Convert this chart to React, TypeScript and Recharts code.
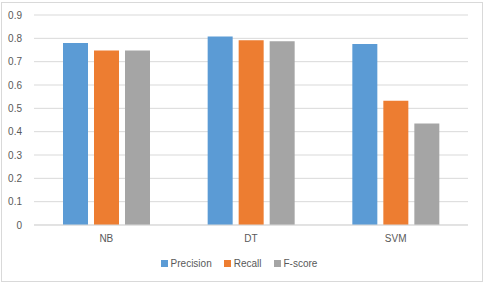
import { Bar, BarChart, CartesianGrid, Legend, XAxis, YAxis } from "recharts";

const categories = ["NB", "DT", "SVM"];
const precision = [0.78, 0.808, 0.776];
const recall = [0.748, 0.792, 0.533];
const fscore = [0.748, 0.787, 0.435];
const yTicks = [0, 0.1, 0.2, 0.3, 0.4, 0.5, 0.6, 0.7, 0.8, 0.9];

const data = categories.map((name, i) => ({
  name,
  Precision: precision[i],
  Recall: recall[i],
  "F-score": fscore[i],
}));

const textColor = "#595959";
const gridColor = "#d9d9d9";
const series = [
  { key: "Precision", color: "#5b9bd5" },
  { key: "Recall", color: "#ed7d31" },
  { key: "F-score", color: "#a5a5a5" },
];

function ChartLegend() {
  return (
    <div style={{ display: "flex", justifyContent: "center", gap: 12, fontSize: 10, color: textColor }}>
      {series.map((s) => (
        <span key={s.key} style={{ display: "inline-flex", alignItems: "center", gap: 3 }}>
          <span style={{ width: 7, height: 7, background: s.color, display: "inline-block" }} />
          {s.key}
        </span>
      ))}
    </div>
  );
}

export default function App() {
  return (
    <div style={{ position: "absolute", left: 0, top: 0, width: 490, height: 284, background: "#fff" }}>
      <div
        style={{
          position: "absolute",
          left: 1,
          top: 2,
          width: 480,
          height: 278,
          border: "1px solid #d9d9d9",
        }}
      />
      <div style={{ position: "absolute", left: 0, top: 0, fontFamily: "'Liberation Sans', Arial, sans-serif" }}>
        <BarChart
          width={490}
          height={284}
          data={data}
          margin={{ top: 15, right: 22, bottom: 18, left: 10 }}
          barSize={25}
          barGap={6}
        >
          <CartesianGrid vertical={false} stroke={gridColor} />
          <XAxis
            dataKey="name"
            tickLine={false}
            axisLine={{ stroke: gridColor }}
            tick={{ fontSize: 10, fill: textColor }}
            tickMargin={4}
          />
          <YAxis
            width={24}
            domain={[0, 0.9]}
            ticks={yTicks}
            tickLine={false}
            axisLine={false}
            tickMargin={6}
            tick={{ fontSize: 10, fill: textColor }}
          />
          <Legend content={<ChartLegend />} wrapperStyle={{ bottom: 15 }} />
          {series.map((s) => (
            <Bar key={s.key} dataKey={s.key} fill={s.color} isAnimationActive={false} />
          ))}
        </BarChart>
      </div>
    </div>
  );
}
